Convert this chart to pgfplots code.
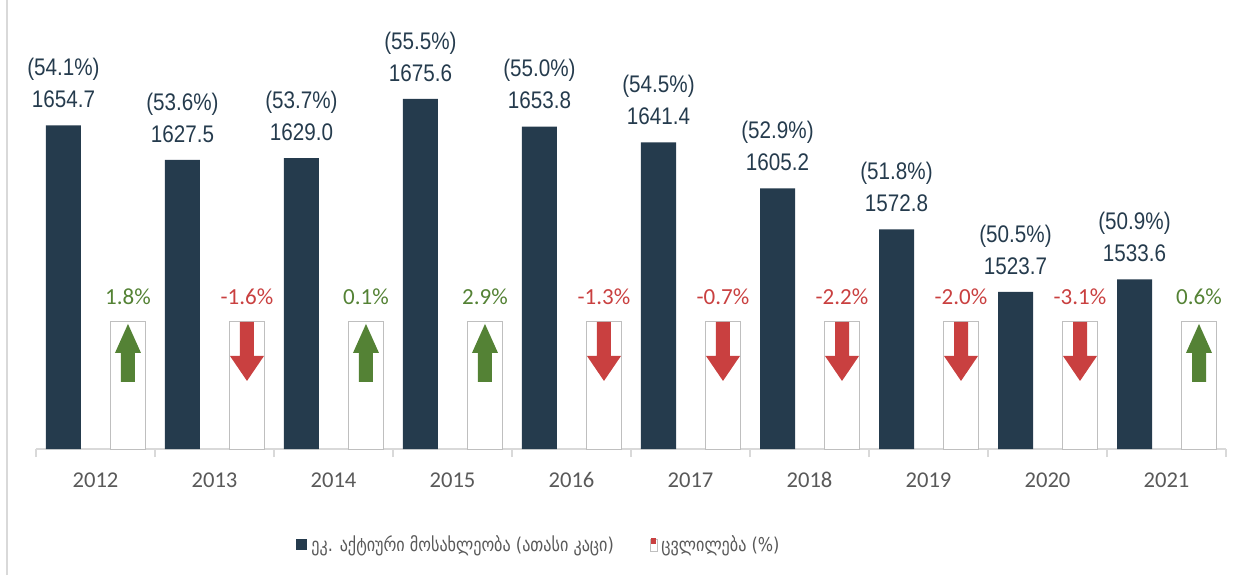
\documentclass[border=0pt]{standalone}
\usepackage{fontspec}
\usepackage{pgfplots}
\usepackage{pgfplotstable}
\pgfplotsset{compat=1.18}
\setmainfont{Carlito}
\newfontfamily\labfont[FakeStretch=0.86]{Liberation Sans}
\newfontfamily\geofont[FakeStretch=0.85]{DejaVu Sans}

\definecolor{navy}{HTML}{253B4D}
\definecolor{upgreen}{HTML}{548235}
\definecolor{downred}{HTML}{C94040}
\definecolor{txtgray}{HTML}{595959}
\definecolor{axisgray}{HTML}{D9D9D9}
\definecolor{bargray}{HTML}{BFBFBF}

% up / down arrow marks, drawn below the data point
\pgfdeclareplotmark{uparr}{%
  \pgfpathmoveto{\pgfqpoint{0pt}{-1pt}}%
  \pgfpathlineto{\pgfqpoint{6.5pt}{-15.5pt}}%
  \pgfpathlineto{\pgfqpoint{3.5pt}{-15.5pt}}%
  \pgfpathlineto{\pgfqpoint{3.5pt}{-30pt}}%
  \pgfpathlineto{\pgfqpoint{-3.5pt}{-30pt}}%
  \pgfpathlineto{\pgfqpoint{-3.5pt}{-15.5pt}}%
  \pgfpathlineto{\pgfqpoint{-6.5pt}{-15.5pt}}%
  \pgfpathclose
  \pgfusepathqfill}
\pgfdeclareplotmark{downarr}{%
  \pgfpathmoveto{\pgfqpoint{-3.5pt}{0pt}}%
  \pgfpathlineto{\pgfqpoint{3.5pt}{0pt}}%
  \pgfpathlineto{\pgfqpoint{3.5pt}{-17pt}}%
  \pgfpathlineto{\pgfqpoint{8.5pt}{-17pt}}%
  \pgfpathlineto{\pgfqpoint{0pt}{-29.5pt}}%
  \pgfpathlineto{\pgfqpoint{-8.5pt}{-17pt}}%
  \pgfpathlineto{\pgfqpoint{-3.5pt}{-17pt}}%
  \pgfpathclose
  \pgfusepathqfill}

% economically active population (thousand), share in brackets
\pgfplotstableread{
x y share
0 1654.7 54.1
1 1627.5 53.6
2 1629.0 53.7
3 1675.6 55.5
4 1653.8 55.0
5 1641.4 54.5
6 1605.2 52.9
7 1572.8 51.8
8 1523.7 50.5
9 1533.6 50.9
}\actdata
% change (%), h = height of the marker frame
\pgfplotstableread{
x h c
0 1500 1.8
2 1500 0.1
3 1500 2.9
9 1500 0.6
}\posdata
\pgfplotstableread{
x h c
1 1500 -1.6
4 1500 -1.3
5 1500 -0.7
6 1500 -2.2
7 1500 -2.0
8 1500 -3.1
}\negdata

\begin{document}
\begin{tikzpicture}
\begin{axis}[
  scale only axis,
  width=595pt, height=216pt,
  xmin=-0.5, xmax=9.5, ymin=1400, ymax=1740,
  clip=false,
  axis y line=none,
  axis x line*=bottom,
  axis line style={draw=axisgray, line width=0.8pt, -},
  xtick={0,...,9},
  xticklabels={2012,2013,2014,2015,2016,2017,2018,2019,2020,2021},
  major tick length=0pt,
  minor xtick={-0.5,0.5,...,9.5},
  minor tick length=4pt,
  tick align=outside,
  tick style={draw=axisgray, line width=0.8pt},
  xticklabel style={font=\fontsize{11.3}{13}\selectfont, text=txtgray, anchor=center, yshift=-15.5pt},
  /pgf/number format/1000 sep={},
  /pgf/number format/assume math mode=true,
  legend style={at={(0.4235,-0.222)}, anchor=center, draw=none,
    font=\geofont\fontsize{9.5}{11}\selectfont, text=txtgray,
    /tikz/every even column/.append style={column sep=16pt}},
  legend columns=-1,
]
\addplot[ybar, bar width=17.5pt, bar shift=0pt, fill=navy, draw=none,
  point meta=y,
  visualization depends on={\thisrow{share}\as\share},
  nodes near coords={(\pgfmathprintnumber[fixed,fixed zerofill,precision=1]{\share}\%)\\\pgfmathprintnumber[fixed,fixed zerofill,precision=1]{\pgfplotspointmeta}},
  every node near coord/.append style={anchor=south, align=center, inner sep=0pt, yshift=8.5pt,
    font=\labfont\fontsize{12}{16}\selectfont, text=navy},
  legend image code/.code={\fill[navy] (0pt,-2.75pt) rectangle (5.5pt,2.75pt);}]
  table[x expr=\thisrow{x}-0.269, y=y] {\actdata};
\addlegendentry{ეკ. აქტიური მოსახლეობა (ათასი კაცი)}

\addplot[ybar, bar width=17.5pt, bar shift=0pt, fill=white, draw=bargray, line width=0.5pt,
  point meta=explicit,
  nodes near coords={\pgfmathprintnumber[fixed,fixed zerofill,precision=1]{\pgfplotspointmeta}\%},
  every node near coord/.append style={anchor=south, inner sep=0pt, yshift=8.5pt,
    font=\fontsize{11.5}{13}\selectfont, text=downred},
  legend image code/.code={\draw[bargray, fill=white, line width=0.3pt] (0.5pt,-3pt) rectangle (4pt,3pt);
    \fill[downred] (1.2pt,0.8pt) rectangle (3.3pt,3pt);}]
  table[x expr=\thisrow{x}+0.273, y=h, meta=c] {\negdata};
\addlegendentry{ცვლილება (\%)}

\addplot[ybar, bar width=17.5pt, bar shift=0pt, fill=white, draw=bargray, line width=0.5pt,
  forget plot,
  point meta=explicit,
  nodes near coords={\pgfmathprintnumber[fixed,fixed zerofill,precision=1]{\pgfplotspointmeta}\%},
  every node near coord/.append style={anchor=south, inner sep=0pt, yshift=8.5pt,
    font=\fontsize{11.5}{13}\selectfont, text=upgreen}]
  table[x expr=\thisrow{x}+0.273, y=h, meta=c] {\posdata};

\addplot[only marks, forget plot, mark=uparr,
  mark options={fill=upgreen, draw=none}]
  table[x expr=\thisrow{x}+0.273, y=h] {\posdata};
\addplot[only marks, forget plot, mark=downarr,
  mark options={fill=downred, draw=none}]
  table[x expr=\thisrow{x}+0.273, y=h] {\negdata};
\end{axis}
\pgfresetboundingbox
\path[use as bounding box] ([shift={(-18pt,-63pt)}]current axis.south west)
  rectangle ([shift={(608pt,224.5pt)}]current axis.south west);
\draw[axisgray, line width=0.8pt] ([shift={(-14.5pt,-63pt)}]current axis.south west)
  -- ([shift={(-14.5pt,224.5pt)}]current axis.south west);
\end{tikzpicture}
\end{document}
